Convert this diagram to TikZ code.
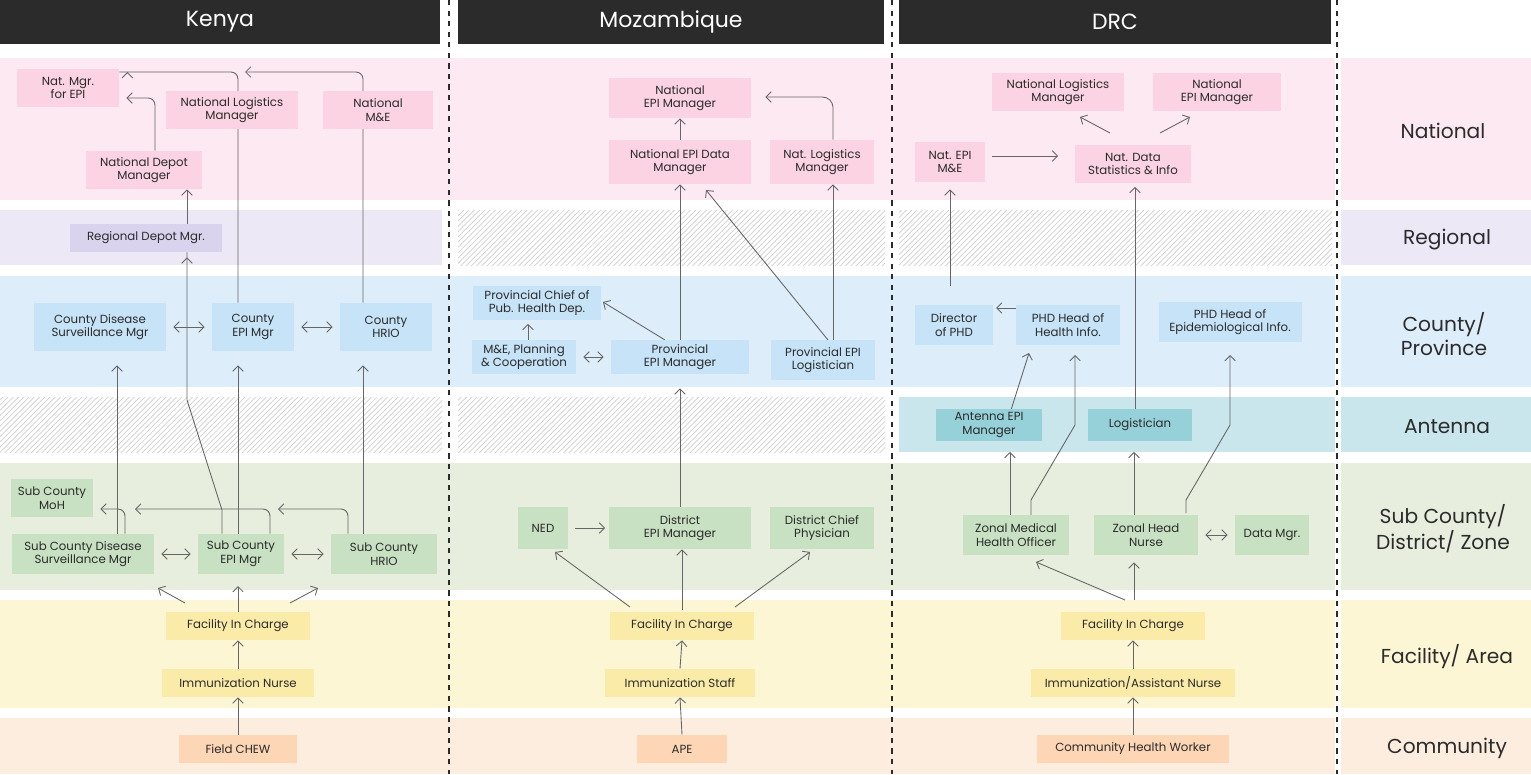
\documentclass[tikz,border=0pt]{standalone}
\usepackage{fontspec}
\setmainfont{Poppins}
\usetikzlibrary{patterns,arrows.meta}
\pgfdeclarelayer{bands}
\pgfdeclarelayer{edges}
\pgfsetlayers{bands,edges,main}
\definecolor{pkband}{HTML}{FDE9F1}
\definecolor{pkbox}{HTML}{FBD3E2}
\definecolor{lvband}{HTML}{ECE8F5}
\definecolor{lvbox}{HTML}{D9D3EE}
\definecolor{blband}{HTML}{DDEDF9}
\definecolor{blbox}{HTML}{C6E3F7}
\definecolor{tlband}{HTML}{C9E6EC}
\definecolor{tlbox}{HTML}{96D1DA}
\definecolor{gnband}{HTML}{E7EEDD}
\definecolor{gnbox}{HTML}{C8E1C3}
\definecolor{ylband}{HTML}{FCF6D5}
\definecolor{ylbox}{HTML}{FBEBA8}
\definecolor{orband}{HTML}{FDEDDF}
\definecolor{orbox}{HTML}{FCD6B5}
\definecolor{txt}{HTML}{2B2B2B}
\definecolor{ln}{HTML}{666666}
\tikzset{
  box/.style={fill=#1, text=txt, align=center, inner sep=1pt, minimum height=0.76cm,
    font=\fontsize{6.7}{7.8}\selectfont},
  w/.style={minimum width={#1*0.02cm}},
  arr/.style={-{Straight Barb[length=3pt,width=6pt]}, ln, line width=0.5pt},
  darr/.style={{Straight Barb[length=3pt,width=6pt]}-{Straight Barb[length=3pt,width=6pt]}, ln, line width=0.5pt},
  hdr/.style={fill=txt, text=white, minimum height=0.9cm, font=\fontsize{12.5}{14}\selectfont},
  lvl/.style={text=txt, align=center, font=\fontsize{11.5}{13.5}\selectfont},
  hatch/.style={fill=white, postaction={pattern=north east lines, pattern color=black!18}}
}
\begin{document}
\begin{tikzpicture}[x=0.02cm,y=-0.02cm]
\useasboundingbox (0,0) rectangle (1531,774);
% headers
\node[hdr, minimum width=8.8cm] (hken) at (220,22) {Kenya};
\node[hdr, minimum width=8.54cm] (hmoz) at (671,22) {Mozambique};
\node[hdr, minimum width=8.66cm] (hdrc) at (1115,22) {DRC};
% level labels
\node[lvl] (lnat) at (1443,131) {National};
\node[lvl] (lreg) at (1447,240) {Regional};
\node[lvl] (lcty) at (1444,334) {County/\\Province};
\node[lvl] (lant) at (1447,427) {Antenna};
\node[lvl] (lsub) at (1443,529) {Sub County/\\District/ Zone};
\node[lvl] (lfac) at (1447,657) {Facility/ Area};
\node[lvl] (lcom) at (1447,748) {Community};

% Kenya
\node[box=pkbox, w=102] (natmgr) at (68,88) {Nat. Mgr.\\for EPI};
\node[box=pkbox, w=132] (natlog) at (232,110) {National Logistics\\Manager};
\node[box=pkbox, w=110] (natme) at (378,110) {National\\M\&E};
\node[box=pkbox, w=116] (natdepot) at (144,170) {National Depot\\Manager};
\node[box=lvbox, w=152, minimum height=0.56cm] (regdepot) at (146,238) {Regional Depot Mgr.};
\node[box=blbox, w=132, minimum height=0.96cm] (cdsm) at (100,327) {County Disease\\Surveillance Mgr};
\node[box=blbox, w=82, minimum height=0.96cm] (cepi) at (253,327) {County\\EPI Mgr};
\node[box=blbox, w=92, minimum height=0.96cm] (chrio) at (386,327) {County\\HRIO};
\node[box=gnbox, w=82] (scmoh) at (52,498) {Sub County\\MoH};
\node[box=gnbox, w=142, minimum height=0.8cm] (scdsm) at (83,554) {Sub County Disease\\Surveillance Mgr};
\node[box=gnbox, w=86, minimum height=0.8cm] (scepi) at (241,554) {Sub County\\EPI Mgr};
\node[box=gnbox, w=106, minimum height=0.8cm] (schrio) at (384,554) {Sub County\\HRIO};
\node[box=ylbox, w=144, minimum height=0.56cm] (fic) at (238,626) {Facility In Charge};
\node[box=ylbox, w=152, minimum height=0.56cm] (imnurse) at (238,683) {Immunization Nurse};
\node[box=orbox, w=118, minimum height=0.56cm] (chew) at (238,749) {Field CHEW};

% Mozambique
\node[box=pkbox, w=142, minimum height=0.8cm] (mnatepi) at (680,98) {National\\EPI Manager};
\node[box=pkbox, w=142, minimum height=0.88cm] (mnatdata) at (680,162) {National EPI Data\\Manager};
\node[box=pkbox, w=104, minimum height=0.88cm] (mnatlog) at (822,162) {Nat. Logistics\\Manager};
\node[box=blbox, w=128, minimum height=0.68cm] (provchief) at (537,303) {Provincial Chief of\\Pub. Health Dep.};
\node[box=blbox, w=104, minimum height=0.68cm] (mep) at (524,357) {M\&E, Planning\\\& Cooperation};
\node[box=blbox, w=138, minimum height=0.68cm] (provepi) at (680,357) {Provincial\\EPI Manager};
\node[box=blbox, w=104, minimum height=0.8cm] (provlog) at (823,360) {Provincial EPI\\Logistician};
\node[box=gnbox, w=50, minimum height=0.84cm] (ned) at (543,528) {NED};
\node[box=gnbox, w=142, minimum height=0.84cm] (distepi) at (680,528) {District\\EPI Manager};
\node[box=gnbox, w=104, minimum height=0.84cm] (distchief) at (822,528) {District Chief\\Physician};
\node[box=ylbox, w=144, minimum height=0.56cm] (mfic) at (682,626) {Facility In Charge};
\node[box=ylbox, w=150, minimum height=0.56cm] (mstaff) at (680,683) {Immunization Staff};
\node[box=orbox, w=90, minimum height=0.56cm] (ape) at (682,749) {APE};

% DRC
\node[box=pkbox, w=132] (dnatlog) at (1058,92) {National Logistics\\Manager};
\node[box=pkbox, w=128] (dnatepi) at (1217,92) {National\\EPI Manager};
\node[box=pkbox, w=70, minimum height=0.8cm] (dnatme) at (950,162) {Nat. EPI\\M\&E};
\node[box=pkbox, w=116] (dnatdata) at (1133,164) {Nat. Data\\Statistics \& Info};
\node[box=blbox, w=78, minimum height=0.8cm] (dirphd) at (954,325) {Director\\of PHD};
\node[box=blbox, w=104, minimum height=0.8cm] (phdhealth) at (1068,325) {PHD Head of\\Health Info.};
\node[box=blbox, w=143, minimum height=0.8cm] (phdepi) at (1230,322) {PHD Head of\\Epidemiological Info.};
\node[box=tlbox, w=106, minimum height=0.64cm] (antepi) at (989,425) {Antenna EPI\\Manager};
\node[box=tlbox, w=104, minimum height=0.64cm] (logist) at (1140,425) {Logistician};
\node[box=gnbox, w=106, minimum height=0.8cm] (zmho) at (1016,535) {Zonal Medical\\Health Officer};
\node[box=gnbox, w=104, minimum height=0.8cm] (zhn) at (1146,535) {Zonal Head\\Nurse};
\node[box=gnbox, w=74, minimum height=0.8cm] (datamgr) at (1272,535) {Data Mgr.};
\node[box=ylbox, w=144, minimum height=0.56cm] (dfic) at (1133,626) {Facility In Charge};
\node[box=ylbox, w=204, minimum height=0.56cm] (dimm) at (1133,683) {Immunization/Assistant Nurse};
\node[box=orbox, w=192, minimum height=0.56cm] (chw) at (1133,749) {Community Health Worker};

\begin{pgfonlayer}{bands}
% bands per level
\fill[pkband] (0,58) rectangle (1335,200);
\fill[pkband] (1341,58) rectangle (1531,200);
\fill[lvband] (0,210) rectangle (442,265);
\fill[lvband] (1341,210) rectangle (1531,265);
\path[hatch] (458,210) rectangle (885,265);
\path[hatch] (899,210) rectangle (1332,265);
\fill[blband] (0,276) rectangle (1335,387);
\fill[blband] (1341,276) rectangle (1531,387);
\path[hatch] (0,397) rectangle (442,452);
\path[hatch] (458,397) rectangle (885,452);
\fill[tlband] (899,397) rectangle (1335,452);
\fill[tlband] (1341,397) rectangle (1531,452);
\fill[gnband] (0,463) rectangle (1335,590);
\fill[gnband] (1341,463) rectangle (1531,590);
\fill[ylband] (0,600) rectangle (1335,708);
\fill[ylband] (1341,600) rectangle (1531,708);
\fill[orband] (0,718) rectangle (1335,774);
\fill[orband] (1341,718) rectangle (1531,774);
% column separators
\foreach \x in {449,892,1337}
  \draw[txt, dashed, line width=0.6pt] (\x,0) -- (\x,774);
\end{pgfonlayer}

\begin{pgfonlayer}{edges}
% Kenya
\draw[arr, rounded corners=4pt] (cepi.north -| 238,0) -- (238,72) -- (natmgr.north east |- 238,72) ++(8,0);
\draw[arr, rounded corners=4pt] (chrio.north -| 363,0) -- (363,72) -- (245,72);
\draw[arr, rounded corners=4pt] (natdepot.north -| 155,0) -- (155,98) -- ([xshift=4pt]natmgr.east |- 155,98);
\draw[arr] (regdepot.north -| 187,0) -- (natdepot.south -| 187,0);
\draw[arr] (scepi.north -| 222,0) -- (222,510) to[out=-90,in=-90,looseness=0] (187,400) -- (regdepot.south -| 187,0) ++(0,5);
\draw[darr] ([xshift=4pt]cdsm.east) -- ([xshift=-4pt]cepi.west);
\draw[darr] ([xshift=4pt]cepi.east) -- ([xshift=-4pt]chrio.west);
\draw[arr] (scdsm.north -| 117,0) -- ([yshift=-8pt]cdsm.south -| 117,0);
\draw[arr] (scepi.north -| 238,0) -- ([yshift=-8pt]cepi.south -| 238,0);
\draw[arr] (schrio.north -| 363,0) -- ([yshift=-8pt]chrio.south -| 363,0);
\draw[arr, rounded corners=4pt] (scdsm.north -| 125,0) -- (125,509) -- ([xshift=4pt]scmoh.east |- 125,509);
\draw[arr, rounded corners=4pt] (scepi.north -| 270,0) -- (270,509) -- (135,509);
\draw[arr, rounded corners=4pt] (schrio.north -| 348,0) -- (348,509) -- (278,509);
\draw[darr] ([xshift=4pt]scdsm.east) -- ([xshift=-4pt]scepi.west);
\draw[darr] ([xshift=4pt]scepi.east) -- ([xshift=-4pt]schrio.west);
\draw[arr] (185,603) -- (158,588);
\draw[arr] (fic.north) -- (238,586);
\draw[arr] (290,603) -- (318,588);
\draw[arr] (imnurse.north) -- (fic.south);
\draw[arr] (chew.north) -- (imnurse.south);
% Mozambique
\draw[arr] (mnatdata.north) -- (mnatepi.south);
\draw[arr, rounded corners=6pt] (mnatlog.north -| 833,0) -- (833,97) -- ([xshift=8pt]mnatepi.east |- 833,97);
\draw[arr] (provepi.north) -- (mnatdata.south);
\draw[arr] (provlog.north -| 833,0) -- (mnatlog.south -| 833,0);
\draw[arr] (828,340) -- (706,190);
\draw[arr] (665,340) -- (603,302);
\draw[darr] ([xshift=4pt]mep.east) -- ([xshift=-4pt]provepi.west);
\draw[arr] (mep.north -| 528,0) -- ([yshift=-2pt]provchief.south -| 528,0);
\draw[arr] (distepi.north) -- ([yshift=-8pt]provepi.south);
\draw[arr] ([xshift=4pt]ned.east) -- ([xshift=-2pt]distepi.west);
\draw[arr] (630,607) -- (555,552);
\draw[arr] (682,610) -- (distepi.south -| 682,0);
\draw[arr] (735,607) -- (810,552);
\draw[arr] (mstaff.north) -- (mfic.south);
\draw[arr] (ape.north) -- (mstaff.south);
% DRC
\draw[arr] (1110,133) -- (1080,117);
\draw[arr] (1160,133) -- (1190,117);
\draw[arr] ([xshift=4pt]dnatme.east |- 950,156) -- (1058,156);
\draw[arr] (950,286) -- ([yshift=-4pt]dnatme.south -| 950,0);
\draw[arr] (phdhealth.west |- 0,308) -- (996,308);
\draw[arr] (logist.north -| 1135,0) -- ([yshift=-2pt]dnatdata.south -| 1135,0);
\draw[arr] (1011,410) -- (1029,353);
\draw[arr] (zmho.north -| 1010,0) -- ([yshift=-6pt]antepi.south -| 1010,0);
\draw[arr] (1031,515) -- (1031,500) to[out=-90,in=-90,looseness=0] (1075,425) -- (1075,355);
\draw[arr] (zhn.north -| 1134,0) -- ([yshift=-6pt]logist.south -| 1134,0);
\draw[arr] (1186,513) -- (1186,500) to[out=-90,in=-90,looseness=0] (1230,425) -- (1230,355);
\draw[darr] ([xshift=4pt]zhn.east) -- ([xshift=-4pt]datamgr.west);
\draw[arr] (1125,600) -- (1036,562);
\draw[arr] (1134,600) -- ([yshift=-4pt]zhn.south -| 1134,0);
\draw[arr] (dimm.north) -- (dfic.south);
\draw[arr] (chw.north) -- (dimm.south);
\end{pgfonlayer}
\end{tikzpicture}
\end{document}
